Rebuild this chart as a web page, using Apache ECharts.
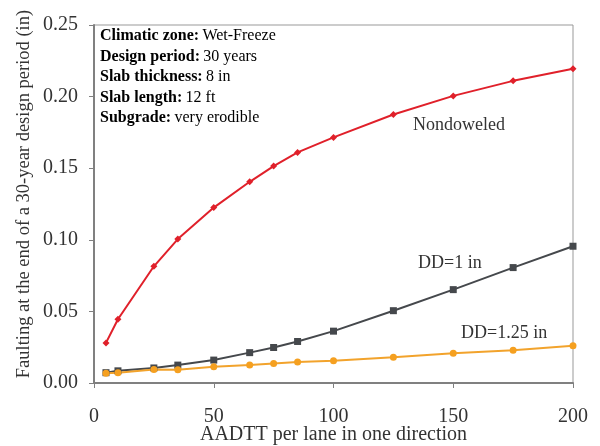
<!DOCTYPE html>
<html>
<head>
<meta charset="utf-8">
<script src="https://cdn.jsdelivr.net/npm/echarts@6/dist/echarts.min.js"></script>
<style>
  html, body { margin: 0; padding: 0; background: #fff; }
  #chart { width: 600px; height: 446px; }
</style>
</head>
<body>
<div id="chart"></div>
<script>
// AADTT per lane in one direction
var aadtt = [5, 10, 25, 35, 50, 65, 75, 85, 100, 125, 150, 175, 200];
// faulting (in)
var nondoweled = [0.028, 0.0445, 0.0815, 0.1005, 0.1225, 0.1405, 0.1515, 0.161, 0.1715, 0.1875, 0.2005, 0.211, 0.2195];
var dd1 = [0.0072, 0.0085, 0.0105, 0.0125, 0.016, 0.0212, 0.0248, 0.029, 0.0362, 0.0505, 0.0652, 0.0806, 0.0955];
var dd125 = [0.0068, 0.0072, 0.0094, 0.0092, 0.0113, 0.0125, 0.0136, 0.0147, 0.0156, 0.0179, 0.0207, 0.0229, 0.026];

var info = [
  ['Climatic zone:', 'Wet-Freeze'],
  ['Design period:', '30 years'],
  ['Slab thickness:', '8 in'],
  ['Slab length:', '12 ft'],
  ['Subgrade:', 'very erodible']
];

function pairs(ys) {
  return aadtt.map(function (x, i) { return [x, ys[i]]; });
}

var serif = '"Liberation Serif", "DejaVu Serif", serif';
var chart = echarts.init(document.getElementById('chart'));

var option = {
  backgroundColor: '#ffffff',
  animation: false,
  grid: {
    left: 94, right: 27, top: 25, bottom: 63,
    outerBoundsMode: 'none',
    containLabel: false,
    show: true,
    borderColor: '#999',
    borderWidth: 1
  },
  xAxis: {
    type: 'value',
    min: 0, max: 200, interval: 50,
    name: 'AADTT per lane in one direction',
    nameLocation: 'middle',
    nameGap: 42,
    nameMoveOverlap: false,
    nameTextStyle: { fontFamily: serif, fontSize: 20, color: '#333' },
    axisLine: { lineStyle: { color: '#808080', width: 2 } },
    axisTick: { show: true, length: 5, lineStyle: { color: '#808080' } },
    axisLabel: { margin: 24, fontFamily: serif, fontSize: 20, color: '#333' },
    splitLine: { show: false }
  },
  yAxis: {
    type: 'value',
    min: 0, max: 0.25, interval: 0.05,
    name: 'Faulting at the end of a 30-year design period (in)',
    nameLocation: 'middle',
    nameGap: 60,
    nameMoveOverlap: false,
    nameTextStyle: { fontFamily: serif, fontSize: 18.5, color: '#333', padding: [0, 0, 0, 20] },
    axisLine: { show: true, lineStyle: { color: '#808080', width: 2 } },
    axisTick: { show: true, length: 5, lineStyle: { color: '#808080' } },
    axisLabel: {
      margin: 16, fontFamily: serif, fontSize: 20, color: '#333',
      formatter: function (v) { return v.toFixed(2); }
    },
    splitLine: { show: false }
  },
  series: [
    {
      name: 'Nondoweled',
      type: 'line',
      data: pairs(nondoweled),
      symbol: 'diamond',
      symbolSize: 7,
      lineStyle: { color: '#e0202a', width: 2 },
      itemStyle: { color: '#e0202a' }
    },
    {
      name: 'DD=1 in',
      type: 'line',
      data: pairs(dd1),
      symbol: 'rect',
      symbolSize: 7,
      lineStyle: { color: '#45484c', width: 2 },
      itemStyle: { color: '#45484c' }
    },
    {
      name: 'DD=1.25 in',
      type: 'line',
      data: pairs(dd125),
      symbol: 'circle',
      symbolSize: 7,
      lineStyle: { color: '#f2a32c', width: 2 },
      itemStyle: { color: '#f5a020' }
    }
  ],
  graphic: [
    {
      type: 'text',
      left: 100, top: 28,
      style: {
        text: info.map(function (r) { return '{b|' + r[0] + '} {n|' + r[1] + '}'; }).join('\n'),
        rich: {
          b: { fontFamily: serif, fontSize: 16, fontWeight: 'bold', color: '#222', lineHeight: 20.5 },
          n: { fontFamily: serif, fontSize: 16, color: '#333', lineHeight: 20.5 }
        }
      }
    },
    {
      type: 'text', left: 413, top: 116,
      style: { text: 'Nondoweled', fontFamily: serif, fontSize: 18, fill: '#333' }
    },
    {
      type: 'text', left: 418, top: 254,
      style: { text: 'DD=1 in', fontFamily: serif, fontSize: 18, fill: '#333' }
    },
    {
      type: 'text', left: 461, top: 324,
      style: { text: 'DD=1.25 in', fontFamily: serif, fontSize: 18, fill: '#333' }
    }
  ]
};

chart.setOption(option);
</script>
</body>
</html>
